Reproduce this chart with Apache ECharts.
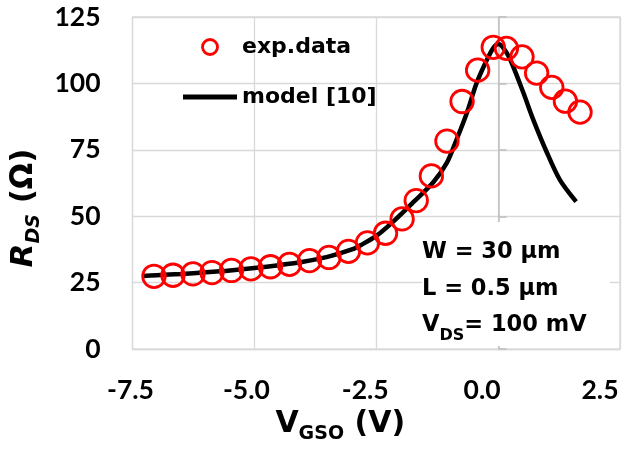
<!DOCTYPE html>
<html>
<head>
<meta charset="utf-8">
<script src="https://cdn.jsdelivr.net/npm/echarts@6/dist/echarts.min.js"></script>
<style>html,body{margin:0;padding:0;background:#fff}#c{width:643px;height:449px}</style>
</head>
<body>
<div id="c"></div>
<script>
// ---- data ----
const expV = [-7.06,-6.67,-6.26,-5.87,-5.47,-5.07,-4.67,-4.28,-3.87,-3.47,-3.07,-2.68,-2.31,-1.97,-1.68,-1.37,-1.05,-0.74,-0.42,-0.10,0.17,0.49,0.79,1.10,1.38,1.68];
const expR = [27.4,27.8,28.3,28.8,29.6,30.2,31.0,31.9,33.3,34.5,36.8,40.0,43.6,49.0,55.9,65.2,78.3,93.2,105.0,113.6,113.2,110.0,103.9,98.5,93.3,89.2];
const modelV = [-7.3,-7.0,-6.5,-6.0,-5.5,-5.0,-4.5,-4.0,-3.5,-3.0,-2.8,-2.5,-2.14,-1.74,-1.33,-1.05,-0.85,-0.64,-0.44,-0.23,-0.10,0.0,0.11,0.25,0.52,0.72,1.0,1.27,1.6];
const modelR = [27.5,27.8,28.3,28.9,29.6,30.5,31.6,32.9,34.7,37.5,39.3,42.6,48.2,55.3,62.8,70.2,79.0,89.0,100.2,108.9,113.3,114.8,113.3,108.9,96.4,86.4,74.0,63.6,55.5];
const xTickLabels = ['-7.5','-5.0','-2.5','0.0','2.5'];
const yTickLabels = ['0','25','50','75','100','125'];
const seriesNames = ['exp.data','model [10]'];

const chart = echarts.init(document.getElementById('c'), null, {renderer:'canvas'});
const xShift = [4,16,22,32,40];
const xRich = {};
xTickLabels.forEach((t,i)=>{ xRich['s'+i] = {padding:[0,xShift[i],0,0]}; });

const DJ = 'DejaVu Sans';
const option = {
  animation:false,
  grid:{left:132, top:17, right:23, bottom:98, show:true, borderColor:'#d9d9d9', borderWidth:1.3},
  legend:{
    orient:'vertical', left:178, top:29, itemWidth:54, itemHeight:15, itemGap:24,
    textStyle:{fontFamily:DJ, fontWeight:'bold', fontSize:22, color:'#000', lineHeight:26},
    data:[
      {name:seriesNames[0], icon:'circle', itemStyle:{color:'rgba(0,0,0,0)', borderColor:'#ff0000', borderWidth:2.8}},
      {name:seriesNames[1], icon:'path://M0 0H54V5H0Z', itemStyle:{color:'#000', borderWidth:0}}
    ]
  },
  xAxis:{
    type:'value', min:-7.5, max:2.5, interval:2.5,
    axisLine:{show:true, onZero:false, lineStyle:{color:'#d9d9d9', width:1.3}},
    axisTick:{show:false},
    splitLine:{show:true, lineStyle:{color:'#d9d9d9', width:1.3}},
    axisLabel:{
      margin:28, color:'#000', fontFamily:'Lato', fontWeight:'bold', fontSize:26.5,
      formatter:(v)=>{ const s=v.toFixed(1); const i=xTickLabels.indexOf(s); return i<0?s:'{s'+i+'|'+s+'}'; },
      rich:xRich
    },
    name:'{v|V}{s|GSO}{n| (V)}', nameLocation:'middle', nameGap:51,
    nameTextStyle:{
      color:'#000', fontFamily:DJ, fontWeight:'bold', padding:[0,72,0,0],
      rich:{
        v:{fontSize:30, lineHeight:40, fontFamily:DJ, fontWeight:'bold', color:'#000'},
        s:{fontSize:19, lineHeight:12.4, verticalAlign:'bottom', fontFamily:DJ, fontWeight:'bold', color:'#000'},
        n:{fontSize:30, lineHeight:40, fontFamily:DJ, fontWeight:'bold', color:'#000'}
      }
    }
  },
  yAxis:[{
    type:'value', min:0, max:125, interval:25,
    axisLine:{show:false}, axisTick:{show:false},
    splitLine:{show:true, lineStyle:{color:'#d9d9d9', width:1.3}},
    axisLabel:{margin:32, color:'#000', fontFamily:'Lato', fontWeight:'bold', fontSize:26.5,
      formatter:(v)=>{ const i=Math.round(v/25); return yTickLabels[i]!==undefined?yTickLabels[i]:String(v); }},
    name:'{r|R}{s|DS}{n| (Ω)}', nameLocation:'middle', nameGap:87, nameRotate:90,
    nameTextStyle:{
      color:'#000', fontFamily:DJ, fontWeight:'bold', padding:[0,50,0,0],
      rich:{
        r:{fontSize:31, lineHeight:40, fontFamily:DJ, fontWeight:'bold', fontStyle:'italic', color:'#000'},
        s:{fontSize:19, lineHeight:12.4, verticalAlign:'bottom', fontFamily:DJ, fontWeight:'bold', fontStyle:'italic', color:'#000'},
        n:{fontSize:31, lineHeight:40, fontFamily:DJ, fontWeight:'bold', color:'#000'}
      }
    }
  },{
    type:'value', min:0, max:125, interval:25, position:'left', offset:-366,
    axisLine:{show:true, lineStyle:{color:'#bfbfbf', width:1.5}},
    axisTick:{show:true, inside:true, length:8, lineStyle:{color:'#bfbfbf', width:1.5}},
    axisLabel:{show:false}, splitLine:{show:false}
  }],
  graphic:[
    {type:'rect', left:422, top:222, shape:{width:188, height:124}, style:{fill:'#fff'}, z:10, silent:true},
    {type:'text', left:422, top:241, z:11, silent:true,
     style:{
       text:'{a|W = 30 μm}\n{a|L = 0.5 μm}\n{a|V}{b|DS}{a|= 100 mV}',
       fill:'#000',
       rich:{
         a:{fontFamily:DJ, fontWeight:'bold', fontSize:22.5, lineHeight:36.5, fill:'#000'},
         b:{fontFamily:DJ, fontWeight:'bold', fontSize:16, lineHeight:12, verticalAlign:'bottom', fill:'#000'}
       }
     }}
  ],
  series:[
    {
      name:seriesNames[1], type:'line', z:2, symbol:'none', smooth:0.3,
      lineStyle:{color:'#000', width:4.5}, itemStyle:{color:'#000'},
      data:modelV.map((v,i)=>[v, modelR[i]])
    },
    {
      name:seriesNames[0], type:'scatter', z:3, symbol:'circle', symbolSize:22.5,
      itemStyle:{color:'rgba(0,0,0,0)', borderColor:'#ff0000', borderWidth:2.8, opacity:1},
      data:expV.map((v,i)=>[v, expR[i]])
    }
  ]
};
chart.setOption(option);
</script>
</body>
</html>
